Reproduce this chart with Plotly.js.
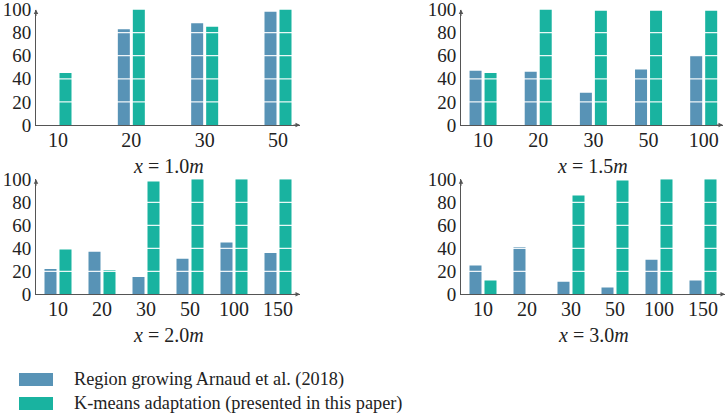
<!DOCTYPE html>
<html>
<head>
<meta charset="utf-8">
<script src="https://cdn.plot.ly/plotly-3.0.1.min.js"></script>
<style>
  html, body { margin: 0; padding: 0; background: #fff; }
  #chart { width: 726px; height: 414px; }
</style>
</head>
<body>
<div id="chart"></div>
<script>
// data (percent)
const seriesNames = ['Region growing Arnaud et al. (2018)', 'K-means adaptation (presented in this paper)'];

const categories1 = ['10', '20', '30', '50'];
const regionGrowing1 = [0, 83, 88, 98];
const kMeans1 = [45, 100, 85, 100];

const categories2 = ['10', '20', '30', '50', '100'];
const regionGrowing2 = [47, 46, 28, 48, 60];
const kMeans2 = [45, 100, 99, 99, 99];

const categories3 = ['10', '20', '30', '50', '100', '150'];
const regionGrowing3 = [22, 37, 15, 31, 45, 36];
const kMeans3 = [39, 21, 98, 100, 100, 100];

const categories4 = ['10', '20', '30', '50', '100', '150'];
const regionGrowing4 = [25, 41, 11, 6, 30, 12];
const kMeans4 = [12, 0, 86, 99, 100, 100];

const panelTitles = ['1.0', '1.5', '2.0', '3.0'];
const yTicks = [0, 20, 40, 60, 80, 100];
const gridValues = [20, 40, 60, 80];

const W = 726, H = 414;
const blue = '#5893b6';
const teal = '#19b3a0';
const fontFam = 'Liberation Serif, serif';

// pixel boxes of each panel: left, right, zero line, 100 line
const boxes = [
    { l: 36, r: 300, b: 125, t: 9.5, range: [-0.3, 3.3], cap: 166 },
    { l: 461, r: 723, b: 125, t: 9.5, range: [-0.4, 4.35], cap: 166 },
    { l: 36, r: 300, b: 294.3, t: 179.3, range: [-0.5, 5.5], cap: 335 },
    { l: 461, r: 725, b: 294.3, t: 179.3, range: [-0.5, 5.5], cap: 335 }
];

const panels = [
    { cats: categories1, rg: regionGrowing1, km: kMeans1 },
    { cats: categories2, rg: regionGrowing2, km: kMeans2 },
    { cats: categories3, rg: regionGrowing3, km: kMeans3 },
    { cats: categories4, rg: regionGrowing4, km: kMeans4 }
];

const traces = [];
const layout = {
    width: W, height: H,
    margin: { l: 0, r: 0, t: 0, b: 0 },
    paper_bgcolor: '#fff', plot_bgcolor: '#fff',
    showlegend: false,
    font: { family: fontFam, size: 20, color: '#222' },
    shapes: [],
    annotations: []
};

const barPx = 12, sepPx = 15;

panels.forEach(function (p, i) {
    const n = i + 1;
    const box = boxes[i];
    const xa = 'x' + (n === 1 ? '' : n), ya = 'y' + (n === 1 ? '' : n);
    const ppc = (box.r - box.l) / (box.range[1] - box.range[0]);
    const w = barPx / ppc;

    traces.push({
        type: 'bar', x: p.cats, y: p.rg, name: seriesNames[0],
        xaxis: xa, yaxis: ya, marker: { color: blue },
        width: w, offset: -(sepPx / 2 + barPx / 2) / ppc, hoverinfo: 'y'
    });
    traces.push({
        type: 'bar', x: p.cats, y: p.km, name: seriesNames[1],
        xaxis: xa, yaxis: ya, marker: { color: teal },
        width: w, offset: (sepPx / 2 - barPx / 2) / ppc, hoverinfo: 'y'
    });

    layout['xaxis' + (n === 1 ? '' : n)] = {
        type: 'category', anchor: ya,
        domain: [box.l / W, box.r / W], range: box.range,
        showgrid: false, zeroline: false, showline: true,
        linecolor: '#555', linewidth: 1, ticks: '',
        tickfont: { family: fontFam, size: 20, color: '#222' },
        ticklabelstandoff: -3, ticklabeloverflow: 'allow', fixedrange: true
    };
    layout['yaxis' + (n === 1 ? '' : n)] = {
        anchor: xa,
        domain: [1 - box.b / H, 1 - box.t / H], range: [0, 100],
        tickvals: yTicks, showgrid: false, zeroline: false, showline: true,
        linecolor: '#555', linewidth: 1, ticks: '',
        tickfont: { family: fontFam, size: 19, color: '#222' },
        ticklabelstandoff: 0, ticklabeloverflow: 'allow', fixedrange: true
    };

    // white grid lines drawn over the bars
    gridValues.forEach(function (v) {
        layout.shapes.push({
            type: 'line', xref: xa + ' domain', yref: ya,
            x0: 0.004, x1: 1, y0: v, y1: v, layer: 'above',
            line: { color: 'rgba(255,255,255,0.9)', width: 1.2 }
        });
    });

    // axis arrow heads
    layout.annotations.push({
        xref: xa + ' domain', yref: ya + ' domain', x: 1, y: 0,
        ax: -8, ay: 0, text: '', showarrow: true,
        arrowhead: 2, arrowsize: 0.9, arrowwidth: 1, arrowcolor: '#555', standoff: 0
    });
    layout.annotations.push({
        xref: xa + ' domain', yref: ya + ' domain', x: 0, y: 1,
        ax: 0, ay: 8, text: '', showarrow: true,
        arrowhead: 2, arrowsize: 0.9, arrowwidth: 1, arrowcolor: '#555', standoff: 0
    });

    // panel caption
    layout.annotations.push({
        xref: 'paper', yref: 'paper',
        x: (box.l + box.r) / 2 / W, y: 1 - box.cap / H,
        xanchor: 'center', yanchor: 'middle', showarrow: false,
        text: '<i>x</i> = ' + panelTitles[i] + '<i>m</i>',
        font: { family: fontFam, size: 20, color: '#222' }
    });
});

// legend drawn by hand so the swatches keep their wide shape
[blue, teal].forEach(function (c, k) {
    const cy = 379.5 + k * 24;
    layout.shapes.push({
        type: 'rect', xref: 'paper', yref: 'paper',
        x0: 19 / W, x1: 53 / W, y0: 1 - (cy + 6.5) / H, y1: 1 - (cy - 6.5) / H,
        fillcolor: c, line: { width: 0 }
    });
    layout.annotations.push({
        xref: 'paper', yref: 'paper', x: 72 / W, y: 1 - cy / H,
        xanchor: 'left', yanchor: 'middle', showarrow: false,
        text: seriesNames[k],
        font: { family: fontFam, size: 18.3, color: '#222' }
    });
});

Plotly.newPlot('chart', traces, layout, { staticPlot: true });
</script>
</body>
</html>
